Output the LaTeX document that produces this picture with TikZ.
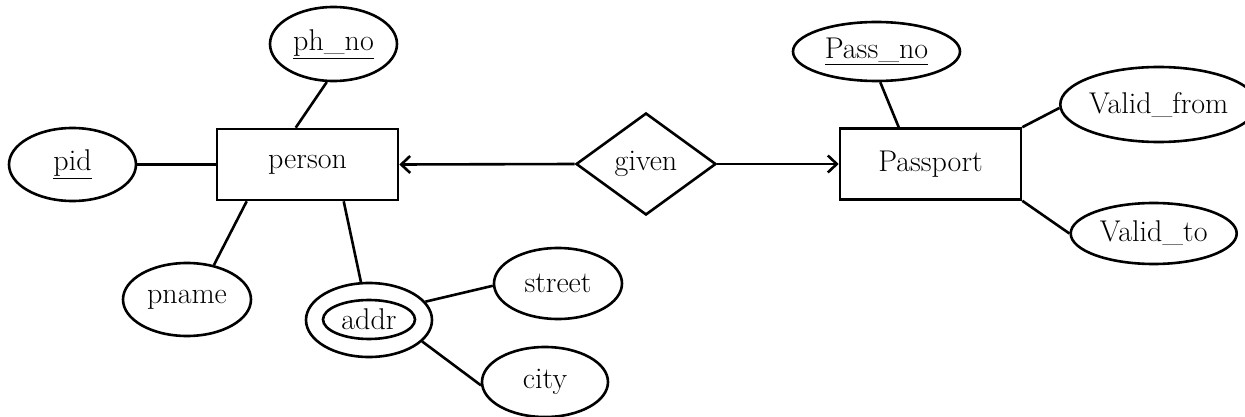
\documentclass[tikz,border=0pt]{standalone}
\usetikzlibrary{shapes.geometric,arrows.meta}
\begin{document}
\begin{tikzpicture}[x=1pt,y=-1pt,
  every node/.style={font=\fontsize{30}{34}\selectfont, inner sep=0pt},
  ln/.style={line width=2.6pt},
  attr/.style={ellipse, draw, line width=2.6pt},
  ent/.style={rectangle, draw, line width=2.6pt, minimum width=181pt, minimum height=71pt},
  rel/.style={diamond, draw, line width=2.6pt, minimum width=140pt, minimum height=102pt, aspect=1.37},
  tip/.style={-{Straight Barb[length=9pt,width=17pt,line width=2.6pt]}}
]
\useasboundingbox (0,0) rectangle (1245,417);
% entities
\node[ent] (person) at (307.5,164.5) {person};
\node[ent] (passport) at (930.5,164) {Passport};
\node[rel] (given) at (646,164) {given};
% attributes
\node[attr, minimum width=127pt, minimum height=73pt] (pid) at (72.5,164.5) {\underline{pid}};
\node[attr, minimum width=127pt, minimum height=74pt] (phno) at (333.5,44) {\underline{ph\_no}};
\node[attr, minimum width=128pt, minimum height=73pt] (pname) at (187,299.5) {pname};
\node[attr, minimum width=126pt, minimum height=74pt] (addr) at (369,320) {};
\node[attr, minimum width=92pt, minimum height=39pt] (addrin) at (369,319.5) {addr};
\node[attr, minimum width=128pt, minimum height=71pt] (street) at (558,283.5) {street};
\node[attr, minimum width=126pt, minimum height=70pt] (city) at (545,382) {city};
\node[attr, minimum width=167pt, minimum height=59pt] (passno) at (876.5,51.5) {\underline{Pass\_no}};
\node[attr, minimum width=166pt, minimum height=75pt] (vfrom) at (1158.7,104.5) {Valid\_from};
\node[attr, minimum width=166pt, minimum height=61pt] (vto) at (1153.7,233.5) {Valid\_to};
% connectors
\draw[ln] (pid.east) -- (person.west);
\draw[ln] ([xshift=80pt]person.north west) -- (phno.260);
\draw[ln] ([xshift=31pt]person.south west) -- (pname.52);
\draw[ln] ([xshift=128pt]person.south west) -- (addr.102);
\draw[ln] (addr.18) -- (street.182);
\draw[ln] (addr.-22) -- (city.183);
\draw[ln] ([xshift=60pt]passport.north west) -- (passno.277);
\draw[ln] (passport.north east) -- (vfrom.182);
\draw[ln] (passport.south east) -- (vto.180);
\draw[ln,tip] (given.west) -- (person.east);
\draw[ln,tip] (given.east) -- (passport.west);
\end{tikzpicture}
\end{document}
